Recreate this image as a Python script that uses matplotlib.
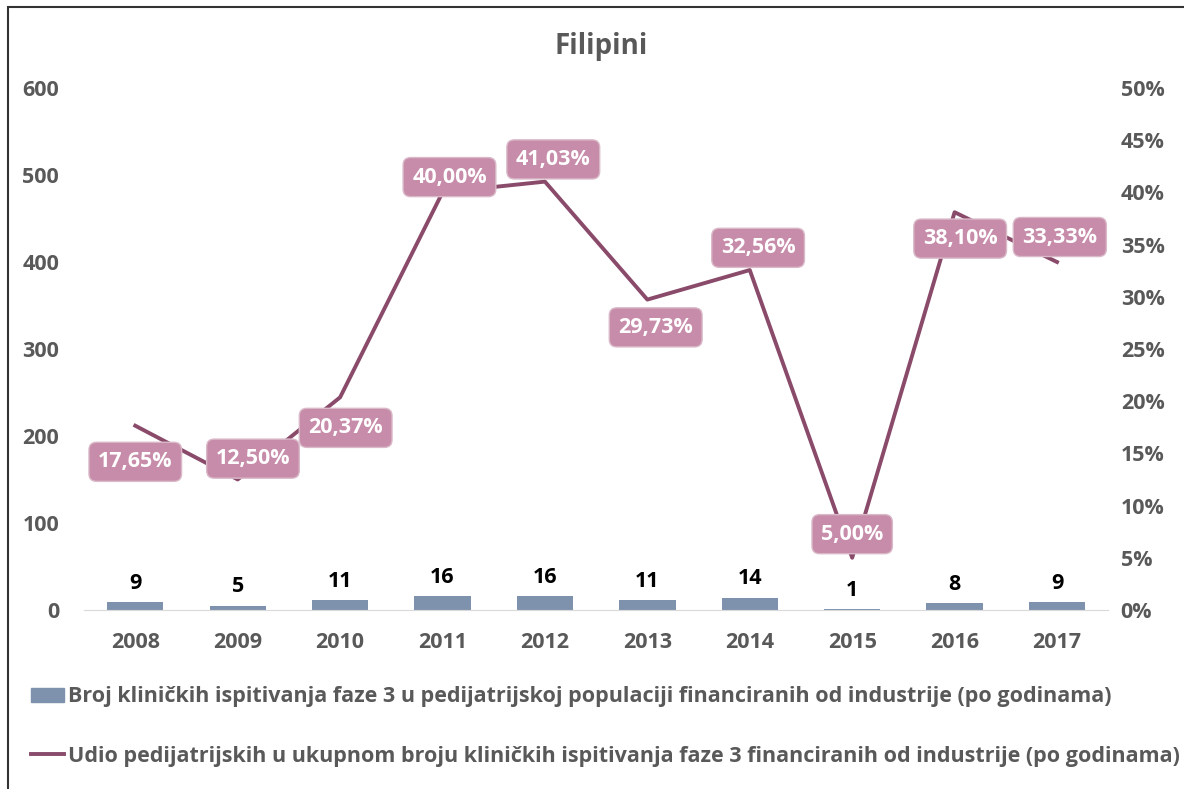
import matplotlib.pyplot as plt
import matplotlib.ticker as mticker
from matplotlib.patches import Rectangle
from matplotlib.lines import Line2D
from matplotlib.patches import Patch

plt.rcParams['font.family'] = ['Open Sans', 'DejaVu Sans']
plt.rcParams['font.weight'] = 'bold'

godine = ['2008', '2009', '2010', '2011', '2012', '2013', '2014', '2015', '2016', '2017']
broj = [9, 5, 11, 16, 16, 11, 14, 1, 8, 9]
udio = [17.65, 12.50, 20.37, 40.00, 41.03, 29.73, 32.56, 5.00, 38.10, 33.33]
# pomak oznaka (u tockama) kako su rucno razmjestene u izvorniku
pomak_x = [0, 11, 4, 5, 6, 6, 6, 0, 4, 2]
pomak_y = [-26, 15, -22, 11, 16, -20, 16, 17, -19, 18]

bar_boja = '#7F92AD'
linija_boja = '#8A4B6B'
oznaka_boja = '#C78CA9'
siva = '#595959'

fig = plt.figure(figsize=(11.84, 7.89), dpi=100)
ax = fig.add_axes([0.071, 0.2269, 0.865, 0.6616])
ax2 = ax.twinx()

x = list(range(len(godine)))
ax.bar(x, broj, width=0.55, color=bar_boja, zorder=2)
for i, v in enumerate(broj):
    ax.annotate(str(v), (i, v), xytext=(0, 6), textcoords='offset points',
                ha='center', va='bottom', fontsize=15.5, fontweight='bold', color='black')

ax.set_ylim(0, 600)
ax.set_xlim(-0.5, len(godine) - 0.5)
ax.set_yticks(range(0, 601, 100))
ax.set_xticks(x)
ax.set_xticklabels(godine)

udio_f = [u / 100 for u in udio]
ax2.plot(x, udio_f, color=linija_boja, linewidth=2.8, zorder=3)
ax2.set_ylim(0, 0.5)
ax2.set_yticks([i * 0.05 for i in range(11)])
ax2.yaxis.set_major_formatter(mticker.FuncFormatter(lambda v, p: '%d%%' % round(v * 100)))

for i, u in enumerate(udio):
    ax2.annotate(('%.2f%%' % u).replace('.', ','), (i, u / 100),
                 xytext=(pomak_x[i], pomak_y[i]), textcoords='offset points',
                 ha='center', va='center', fontsize=15.5, fontweight='bold', color='white',
                 bbox=dict(boxstyle='round,pad=0.42,rounding_size=0.35',
                           fc=oznaka_boja, ec='#D9B9C8', lw=1), zorder=5)

for a in (ax, ax2):
    for s in a.spines.values():
        s.set_visible(False)
    a.tick_params(length=0, labelsize=15.5, labelcolor=siva)
ax.spines['bottom'].set_visible(True)
ax.spines['bottom'].set_color('#D9D9D9')
ax.tick_params(axis='y', pad=18)
ax.tick_params(axis='x', pad=16)
ax2.tick_params(axis='y', pad=9)
for lab in ax.get_xticklabels() + ax.get_yticklabels() + ax2.get_yticklabels():
    lab.set_fontweight('bold')

fig.text(0.508, 0.941, 'Filipini', ha='center', va='center', fontsize=20,
         fontweight='bold', color=siva)

rucke = [Patch(color=bar_boja), Line2D([], [], color=linija_boja, lw=2.8)]
natpisi = ['Broj kliničkih ispitivanja faze 3 u pedijatrijskoj populaciji financiranih od industrije (po godinama)',
           'Udio pedijatrijskih u ukupnom broju kliničkih ispitivanja faze 3 financiranih od industrije (po godinama)']
fig.legend(rucke, natpisi, loc='upper left', bbox_to_anchor=(0.026, 0.130),
           frameon=False, fontsize=15.5, labelcolor=siva, handlelength=1.55,
           handleheight=0.6, handletextpad=0.2, labelspacing=1.77, borderaxespad=0,
           borderpad=0)
for t in fig.legends[0].get_texts():
    t.set_fontweight('bold')

fig.patches.append(Rectangle((8 / 1184, -0.1), 1.2, 1 - 7 / 789 + 0.1, transform=fig.transFigure,
                             fill=False, ec='#333333', lw=1.5))

fig.savefig('out.png', dpi=100)
